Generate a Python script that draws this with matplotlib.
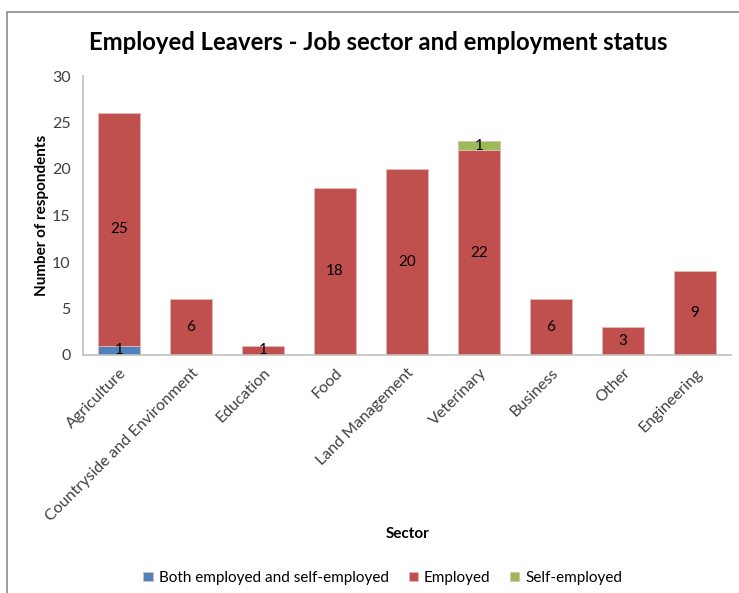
import numpy as np
import matplotlib.pyplot as plt
from matplotlib.patches import Rectangle

plt.rcParams['font.family'] = ['Lato', 'DejaVu Sans']

sectors = ['Agriculture', 'Countryside and Environment', 'Education', 'Food',
           'Land Management', 'Veterinary', 'Business', 'Other', 'Engineering']
both = [1, 0, 0, 0, 0, 0, 0, 0, 0]
employed = [25, 6, 1, 18, 20, 22, 6, 3, 9]
self_employed = [0, 0, 0, 0, 0, 1, 0, 0, 0]

series = [('Both employed and self-employed', both, '#4F81BD'),
          ('Employed', employed, '#C0504D'),
          ('Self-employed', self_employed, '#9BBB59')]

fig = plt.figure(figsize=(7.39, 5.93), dpi=100)
ax = fig.add_axes([83 / 739, 1 - 355 / 593, 648 / 739, 279 / 593])

# outer chart frame
fig.patches.append(Rectangle((7 / 739, -0.1), 1.2, 1 - 12 / 593 + 0.1,
                             transform=fig.transFigure, fill=False,
                             edgecolor='#8C8C8C', linewidth=1.2))

x = np.arange(len(sectors))
bottom = np.zeros(len(sectors))
for name, vals, color in series:
    vals = np.array(vals, dtype=float)
    ax.bar(x, vals, width=0.57, bottom=bottom, color=color, label=name,
           edgecolor='#E8B8B6', linewidth=0.6)
    for xi, b, v in zip(x, bottom, vals):
        if v > 0:
            ax.text(xi, b + v / 2, f'{int(v)}', ha='center', va='center',
                    fontsize=11, color='black')
    bottom += vals

ax.set_xlim(-0.5, len(sectors) - 0.5)
ax.set_ylim(0, 30)
ax.set_yticks(range(0, 31, 5))
ax.set_xticks(x)
ax.set_xticklabels(sectors, rotation=45, ha='right', rotation_mode='anchor')
ax.tick_params(axis='both', length=0, labelsize=11.5, labelcolor='#404040')
ax.tick_params(axis='y', pad=9)
ax.tick_params(axis='x', pad=8)

for side in ['top', 'right']:
    ax.spines[side].set_visible(False)
for side in ['left', 'bottom']:
    ax.spines[side].set_color('#BFBFBF')
    ax.spines[side].set_linewidth(1.2)

ax.set_ylabel('Number of respondents', fontsize=11, fontweight='bold', labelpad=2)
fig.text(408 / 739, 1 - 534 / 593, 'Sector', ha='center', va='center',
         fontsize=11, fontweight='bold')
fig.text(378 / 739, 1 - 43 / 593,
         'Employed Leavers - Job sector and employment status',
         ha='center', va='center', fontsize=17.2, fontweight='bold')

handles, labels = ax.get_legend_handles_labels()
fig.legend(handles, labels, loc='center', bbox_to_anchor=(383 / 739, 1 - 578 / 593),
           ncol=3, frameon=False, fontsize=11, handlelength=0.6, handleheight=0.6,
           handletextpad=0.4, columnspacing=1.3)

fig.savefig('out.png', dpi=100)
